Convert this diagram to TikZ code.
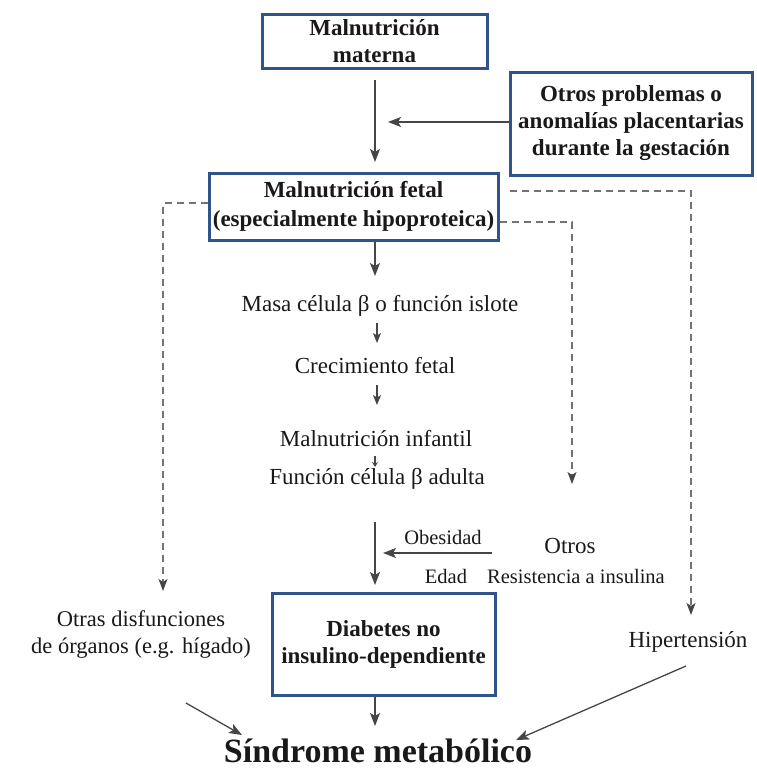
\documentclass[tikz,border=0pt]{standalone}
\usepackage{fontspec}
\setmainfont{Liberation Serif}
\usetikzlibrary{arrows.meta}
\definecolor{boxblue}{RGB}{47,84,138}
\definecolor{ink}{RGB}{25,25,25}
\definecolor{lin}{RGB}{70,70,70}
\definecolor{dsg}{RGB}{115,115,115}
\begin{document}
\begin{tikzpicture}[x=1pt,y=-1pt,
  bbox/.style={draw=boxblue,line width=3pt,fill=white,align=center,inner sep=0pt,text=ink,font=\fontsize{23}{27}\selectfont\bfseries},
  txt/.style={align=center,inner sep=0pt,text=ink,font=\fontsize{23}{27}\selectfont},
  arr/.style={draw=lin,line width=1.3pt,-{Stealth[length=13pt,width=10pt,inset=3pt]}},
  sarr/.style={draw=lin,line width=1.2pt,-{Stealth[length=10pt,width=8pt,inset=2.5pt]}},
  dsh/.style={draw=dsg,line width=1.4pt,dash pattern=on 7pt off 5pt,-{Stealth[length=12pt,width=9pt,inset=3pt,color=lin]}}
]
\useasboundingbox (0,0) rectangle (756,771);
% boxes
\node[bbox,minimum width=225,minimum height=54] (mm) at (374.5,41) {Malnutrición\\materna};
\node[bbox,minimum width=242,minimum height=103] (op) at (631,123.5) {Otros problemas o\\anomalías placentarias\\durante la gestación};
\node[bbox,minimum width=289,minimum height=67,font=\fontsize{23}{29}\selectfont\bfseries] (fm) at (353.5,206.5) {Malnutrición fetal\\(especialmente hipoproteica)};
\node[bbox,minimum width=223,minimum height=102] (db) at (383.5,644) {Diabetes no\\insulino-dependiente};
% chain texts
\node[txt] (ma) at (380,306) {Masa célula β o función islote};
\node[txt] (cf) at (375,366) {Crecimiento fetal};
\node[txt] (mi) at (376,439) {Malnutrición infantil};
\node[txt] (fa) at (377,479) {Función célula β adulta};
\node[txt,font=\fontsize{20.5}{24}\selectfont] (ob) at (443,537) {Obesidad};
\node[txt,font=\fontsize{20.5}{24}\selectfont] (ed) at (446,576) {Edad};
\node[txt,font=\fontsize{23}{27}\selectfont] (ot) at (570,546) {Otros};
\node[txt,font=\fontsize{20.5}{24}\selectfont] (ri) at (576,576) {Resistencia a insulina};
\node[txt,font=\fontsize{22.5}{27}\selectfont] (od) at (141,634) {Otras disfunciones\\de órganos (e.g. hígado)};
\node[txt,font=\fontsize{23}{27}\selectfont] (hi) at (688,642) {Hipertensión};
\node[txt,font=\fontsize{34}{36}\selectfont\bfseries,anchor=base] (sm) at (378,762) {Síndrome metabólico};
% coordinates
\coordinate (c1) at (375,80);
\coordinate (c2) at (375,162);
\coordinate (j1) at (388,122);
\coordinate (c3) at (375,276);
\coordinate (a1) at (377,323); \coordinate (a1e) at (377,343);
\coordinate (a2) at (377,385); \coordinate (a2e) at (377,405);
\coordinate (a3) at (375,456); \coordinate (a3e) at (375,467);
\coordinate (c4) at (375,522); \coordinate (c5) at (375,585);
\coordinate (ob1) at (492,553); \coordinate (ob2) at (383,553);
\coordinate (l1) at (163,203); \coordinate (l2) at (163,591);
\coordinate (r1) at (691,191); \coordinate (r2) at (691,615);
\coordinate (m1) at (572,222); \coordinate (m2) at (572,484);
\coordinate (b1) at (186,703); \coordinate (b1e) at (242,735);
\coordinate (b2) at (686,666); \coordinate (b2e) at (516,740);
\coordinate (b3e) at (375,726);
% connectors
\draw[arr] (c1) -- (c2);
\draw[arr] (op.west |- j1) -- (j1);
\draw[arr] (fm.south -| c3) -- (c3);
\draw[sarr] (a1) -- (a1e);
\draw[sarr] (a2) -- (a2e);
\draw[draw=lin,line width=1.2pt,-{Stealth[length=5pt,width=6pt]}] (a3) -- (a3e);
\draw[arr] (c4) -- (c5);
\draw[arr] (ob1) -- (ob2);
\draw[dsh] (fm.west |- l1) -- (l1) -- (l2);
\draw[dsh] (fm.east |- r1) ++(10,0) -- (r1) -- (r2);
\draw[dsh] (fm.east |- m1) -- (m1) -- (m2);
\draw[arr] (b1) -- (b1e);
\draw[arr] (b2) -- (b2e);
\draw[arr] (db.south -| b3e) -- (b3e);
\end{tikzpicture}
\end{document}
